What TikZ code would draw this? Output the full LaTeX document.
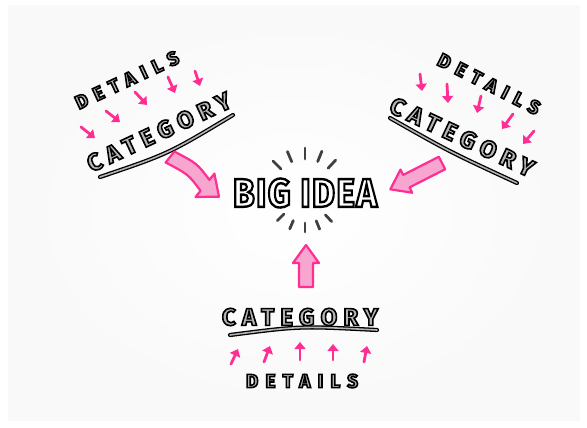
\documentclass[tikz,border=0pt]{standalone}
\usepackage{fontspec}
\usetikzlibrary{arrows.meta,calc}
\newfontfamily\detailfont{Fira Sans Bold}[LetterSpace=38]
\newfontfamily\categoryfont{Fira Sans Bold}[LetterSpace=26]
\newfontfamily\ideafont{Fira Sans Bold}[LetterSpace=4]
\definecolor{markerpink}{HTML}{FF2E93}
\definecolor{softpink}{HTML}{F7A6CF}
\definecolor{inkgray}{HTML}{B4B4B4}
% outlined letters: fill in the text colour, stroke in black
\newcommand{\outlined}[2]{{\special{pdf:literal direct 2 Tr #1 w 0 0 0 RG}#2\special{pdf:literal direct 0 Tr}}}
\newcommand{\sketchword}[1]{{\color{inkgray}\outlined{1.6}{#1}}}
\newcommand{\bubbleword}[1]{{\color{white}\outlined{2.4}{#1}}}
\tikzset{
  word/.style={inner sep=0pt},
  tip/.style={markerpink, line width=2.8pt, line cap=round, -{Triangle[length=7pt,width=11pt]}},
  underline/.style={black, line width=1.3pt, double=inkgray, double distance=1.6pt, line cap=round},
  bigarrow/.style={draw=markerpink, fill=softpink, line width=2.2pt, line join=round},
  ray/.style={black!75, line width=2.8pt, line cap=round},
  pics/blockarrow/.style={code={
    \draw[bigarrow] (0,-7) -- (#1-18,-7) -- (#1-18,-13) -- (#1,0) -- (#1-18,13) -- (#1-18,7) -- (0,7) -- cycle;}},
  pics/blockcurve/.style={code={
    \draw[bigarrow] (0,-7) .. controls (#1*0.4,-12) .. (#1-18,-7) -- (#1-18,-15) -- (#1,0)
      -- (#1-18,15) -- (#1-18,7) .. controls (#1*0.4,2) .. (0,7) -- cycle;}}
}

\begin{document}
\begin{tikzpicture}[x=1pt, y=-1pt]
  \useasboundingbox (0,0) rectangle (587,428);
  \fill[white] (0,0) rectangle (587,428);
  \shade[inner color=white, outer color=gray!5] (8,6) rectangle (580,420);

  % big idea in the middle
  \node[word, font=\ideafont\fontsize{40}{40}\selectfont] (idea) at (305,193) {\scalebox{0.88}[1]{\bubbleword{BIG IDEA}}};
  \foreach \a in {-135,-113,-90,-68,-47}
    \draw[ray] ($(idea.center)+(\a:34)$) -- ($(idea.center)+(\a:45)$);
  \foreach \a in {135,113,90,68,47}
    \draw[ray] ($(idea.center)+(\a:30)$) -- ($(idea.center)+(\a:39)$);

  % top left
  \node[word, font=\detailfont\fontsize{19}{19}\selectfont, rotate=25] (detailsL) at (127,80) {\sketchword{DETAILS}};
  \node[word, font=\categoryfont\fontsize{24}{24}\selectfont, rotate=25] (categoryL) at (159,132) {\sketchword{CATEGORY}};
  \draw[underline] (100,177) .. controls (168,154) .. (233,115);
  \foreach \x/\y/\u/\v in {81/127/95/138, 106/111/120/122, 135/92/147/105, 168/77/175/93, 195/71/200/86}
    \draw[tip] (\x,\y) -- (\u,\v);
  \pic[rotate=-39] at (170,157) {blockcurve=63};

  % top right
  \node[word, font=\detailfont\fontsize{19}{19}\selectfont, rotate=-27] (detailsR) at (489,84) {\sketchword{DETAILS}};
  \node[word, font=\categoryfont\fontsize{24}{24}\selectfont, rotate=-25] (categoryR) at (462,137) {\sketchword{CATEGORY}};
  \draw[underline] (390,118) .. controls (450,152) .. (517,183);
  \foreach \x/\y/\u/\v in {420/74/422/91, 447/84/448/103, 481/96/477/113, 513/114/502/129, 534/131/523/144}
    \draw[tip] (\x,\y) -- (\u,\v);
  \pic[rotate=207] at (442,163) {blockarrow=58};

  % bottom
  \pic[rotate=90] at (306,287) {blockarrow=42};
  \node[word, font=\categoryfont\fontsize{24}{24}\selectfont] (categoryB) at (300,317) {\sketchword{CATEGORY}};
  \draw[underline] (230,335) .. controls (300,326) .. (377,330);
  \foreach \x/\y/\u/\v in {231/364/238/349, 264/362/270/346, 300/360/300/342, 333/360/333/344, 364/362/367/346}
    \draw[tip] (\x,\y) -- (\u,\v);
  \node[word, font=\detailfont\fontsize{19}{19}\selectfont] (detailsB) at (302,381) {\sketchword{DETAILS}};
\end{tikzpicture}
\end{document}
